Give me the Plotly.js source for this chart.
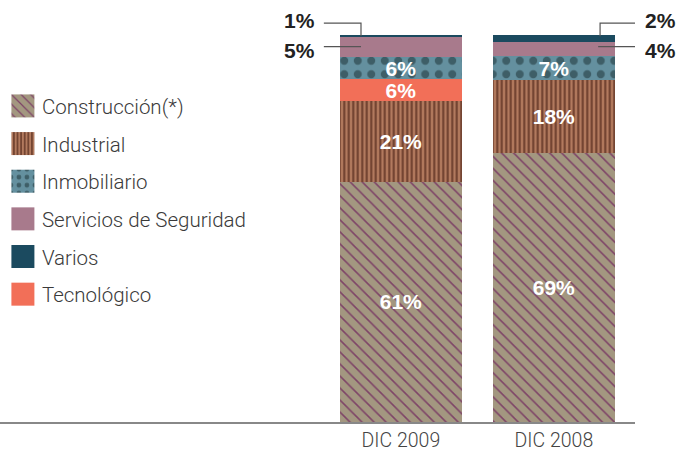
<!DOCTYPE html>
<html>
<head>
<meta charset="utf-8">
<script src="https://cdn.plot.ly/plotly-3.0.1.min.js"></script>
<style>html,body{margin:0;padding:0;background:#fff;}#chart{width:676px;height:451px;}</style>
</head>
<body>
<div id="chart"></div>
<script>
const categories = ['DIC 2009', 'DIC 2008'];
const construccion = [62.0, 69.4];
const industrial = [20.8, 18.8];
const tecnologico = [5.8, 0];
const inmobiliario = [5.6, 6.3];
const seguridad = [5.1, 3.6];
const varios = [0.7, 1.9];

const construccionLabels = ['61%', '69%'];
const industrialLabels = ['21%', '18%'];
const tecnologicoLabels = ['6%', ''];
const inmobiliarioLabels = ['6%', '7%'];
const seguridadLabels = ['5%', '4%'];
const variosLabels = ['1%', '2%'];

const labelFont = {family: '"Liberation Sans", Arial, sans-serif', size: 21, color: '#ffffff', weight: 'bold'};

const traces = [
  {name: 'Construcción(*)', y: construccion, legendrank: 1,
   marker: {color: '#a39780', pattern: {shape: '\\', bgcolor: '#a39780', fgcolor: '#7e4467', size: 8.5, solidity: 0.18}},
   text: construccionLabels, textposition: 'inside'},
  {name: 'Industrial', y: industrial, legendrank: 2,
   marker: {color: '#b27a5e', pattern: {shape: '|', bgcolor: '#b27a5e', fgcolor: '#6d3f2d', size: 4.5, solidity: 0.45}},
   text: industrialLabels, textposition: 'inside'},
  {name: 'Tecnológico', y: tecnologico, legendrank: 6,
   marker: {color: '#f26f58'},
   text: tecnologicoLabels, textposition: 'inside'},
  {name: 'Inmobiliario', y: inmobiliario, legendrank: 3,
   marker: {color: '#64909f', pattern: {shape: '.', bgcolor: '#64909f', fgcolor: '#3e5e67', size: 13.5, solidity: 0.28}},
   text: inmobiliarioLabels, textposition: 'inside'},
  {name: 'Servicios de Seguridad', y: seguridad, legendrank: 4,
   marker: {color: '#a87a8c'}, textposition: 'none'},
  {name: 'Varios', y: varios, legendrank: 5,
   marker: {color: '#1b4a5f'}, textposition: 'none'}
].map(t => Object.assign({
  type: 'bar', x: categories, legendgroup: t.name,
  textfont: labelFont, insidetextanchor: 'middle', constraintext: 'none',
  hoverinfo: 'skip'
}, t, {marker: Object.assign({line: {width: 0}}, t.marker)}));

const sideFont = {family: '"Liberation Sans", Arial, sans-serif', size: 21, color: '#222222', weight: 'bold'};
const lineStyle = {color: '#555555', width: 1.2};

const layout = {
  width: 676, height: 451,
  margin: {l: 0, r: 41, t: 0, b: 29, pad: 0},
  barmode: 'stack', bargap: 0.2,
  paper_bgcolor: '#ffffff', plot_bgcolor: '#ffffff',
  showlegend: true,
  legend: {x: 0.003, xanchor: 'left', y: 0.796, yanchor: 'top', traceorder: 'grouped',
    tracegroupgap: 8, font: {family: 'Roboto, Arial, sans-serif', size: 20.5, color: '#3a3a3a', weight: 300},
    bgcolor: 'rgba(0,0,0,0)'},
  xaxis: {type: 'category', range: [-2.62, 1.53], showgrid: false, zeroline: false,
    showline: true, linecolor: '#888888', linewidth: 1.5, ticks: '',
    tickfont: {family: 'Roboto, Arial, sans-serif', size: 19.5, color: '#444444', weight: 300}, fixedrange: true},
  yaxis: {range: [0, 108.96], visible: false, fixedrange: true},
  annotations: [
    {x: 0.499, y: 103.7, xref: 'paper', yref: 'y', text: variosLabels[0], showarrow: false, xanchor: 'right', yanchor: 'middle', font: sideFont},
    {x: 0.499, y: 96.0, xref: 'paper', yref: 'y', text: seguridadLabels[0], showarrow: false, xanchor: 'right', yanchor: 'middle', font: sideFont},
    {x: 1.0126, y: 103.7, xref: 'paper', yref: 'y', text: variosLabels[1], showarrow: false, xanchor: 'left', yanchor: 'middle', font: sideFont},
    {x: 1.0126, y: 96.0, xref: 'paper', yref: 'y', text: seguridadLabels[1], showarrow: false, xanchor: 'left', yanchor: 'middle', font: sideFont}
  ],
  shapes: [
    {type: 'path', xref: 'paper', yref: 'y', path: 'M 0.510,103.0 L 0.5685,103.0 L 0.5685,99.6', line: lineStyle},
    {type: 'path', xref: 'paper', yref: 'y', path: 'M 0.510,96.9 L 0.5685,96.9', line: lineStyle},
    {type: 'path', xref: 'paper', yref: 'y', path: 'M 1.0,103.0 L 0.945,103.0 L 0.945,99.6', line: lineStyle},
    {type: 'path', xref: 'paper', yref: 'y', path: 'M 1.0,96.9 L 0.942,96.9', line: lineStyle}
  ]
};

Plotly.newPlot('chart', traces, layout, {displayModeBar: false, staticPlot: true}).then(function(){
  document.querySelectorAll('#chart .legend .legendpoints path').forEach(function(p){
    p.setAttribute('d', 'M11.5,11.5H-11.5V-11.5H11.5Z');
    p.setAttribute('transform', 'translate(21,0)');
  });
});
</script>
</body>
</html>
